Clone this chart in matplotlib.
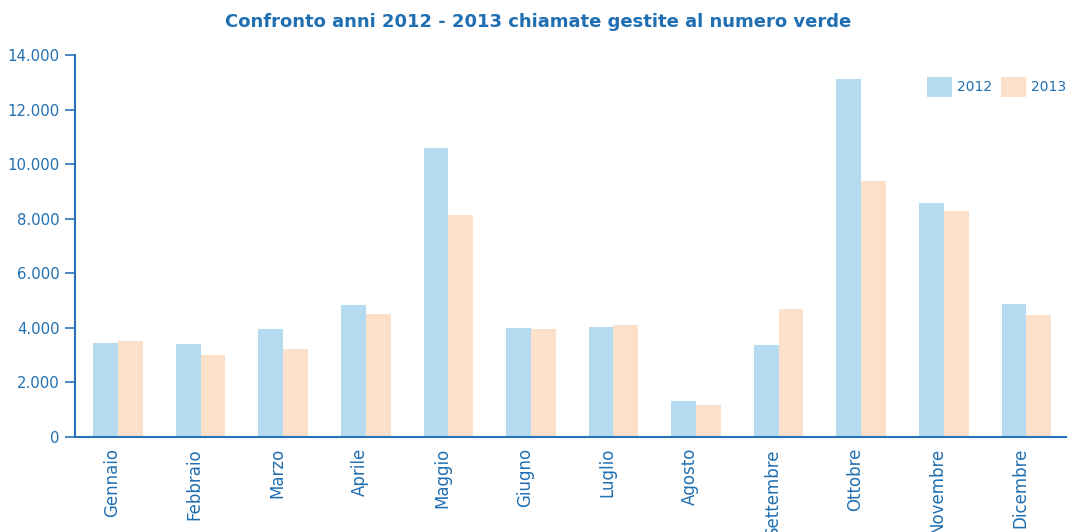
import matplotlib.pyplot as plt
import numpy as np
from matplotlib.ticker import FuncFormatter

months = ['Gennaio', 'Febbraio', 'Marzo', 'Aprile', 'Maggio', 'Giugno',
          'Luglio', 'Agosto', 'Settembre', 'Ottobre', 'Novembre', 'Dicembre']
calls_2012 = [3450, 3400, 3960, 4840, 10590, 3990, 4030, 1320, 3370, 13110, 8570, 4870]
calls_2013 = [3520, 3000, 3220, 4500, 8130, 3960, 4100, 1170, 4690, 9380, 8280, 4470]

BLUE_TXT = '#1f6fb2'


def main():
    plt.rcParams['font.family'] = ['DejaVu Sans']
    fig = plt.figure(figsize=(10.69, 5.32), dpi=100)
    ax = fig.add_axes([0.0702, 0.1786, 0.927, 0.718])

    x = np.arange(len(months))
    w = 0.3
    ax.bar(x, calls_2012, w, align='edge', color='#b5dbf0', label='2012')
    ax.bar(x + w, calls_2013, w, align='edge', color='#fde0ca', label='2013')
    ax.set_xlim(-0.22, 11.78)
    ax.set_ylim(0, 14000)
    ax.set_yticks(range(0, 14001, 2000))
    ax.yaxis.set_major_formatter(FuncFormatter(lambda v, p: f'{int(v):,}'.replace(',', '.')))
    ax.set_xticks(x + w * 0.75)
    ax.set_xticklabels(months, rotation=90, va='top', ha='center')

    for s in ['top', 'right']:
        ax.spines[s].set_visible(False)
    for s in ['left', 'bottom']:
        ax.spines[s].set_color('#2a72b8')
        ax.spines[s].set_linewidth(1.5)
    ax.tick_params(axis='y', colors='#2a72b8', labelcolor=BLUE_TXT, labelsize=10.7,
                   length=7, width=1.2, pad=4)
    ax.tick_params(axis='x', length=0, labelcolor=BLUE_TXT, labelsize=12, pad=8)

    fig.suptitle('Confronto anni 2012 - 2013 chiamate gestite al numero verde',
                 x=0.503, y=0.958, va='center', color=BLUE_TXT, fontsize=13, fontweight='bold')
    leg = ax.legend(loc='upper right', bbox_to_anchor=(1.013, 0.975), ncol=2, frameon=False,
                    fontsize=10, handlelength=1.8, handleheight=1.8, columnspacing=0.6,
                    handletextpad=0.4)
    for t in leg.get_texts():
        t.set_color(BLUE_TXT)

    fig.savefig('out.png', dpi=100)


if __name__ == '__main__':
    main()
